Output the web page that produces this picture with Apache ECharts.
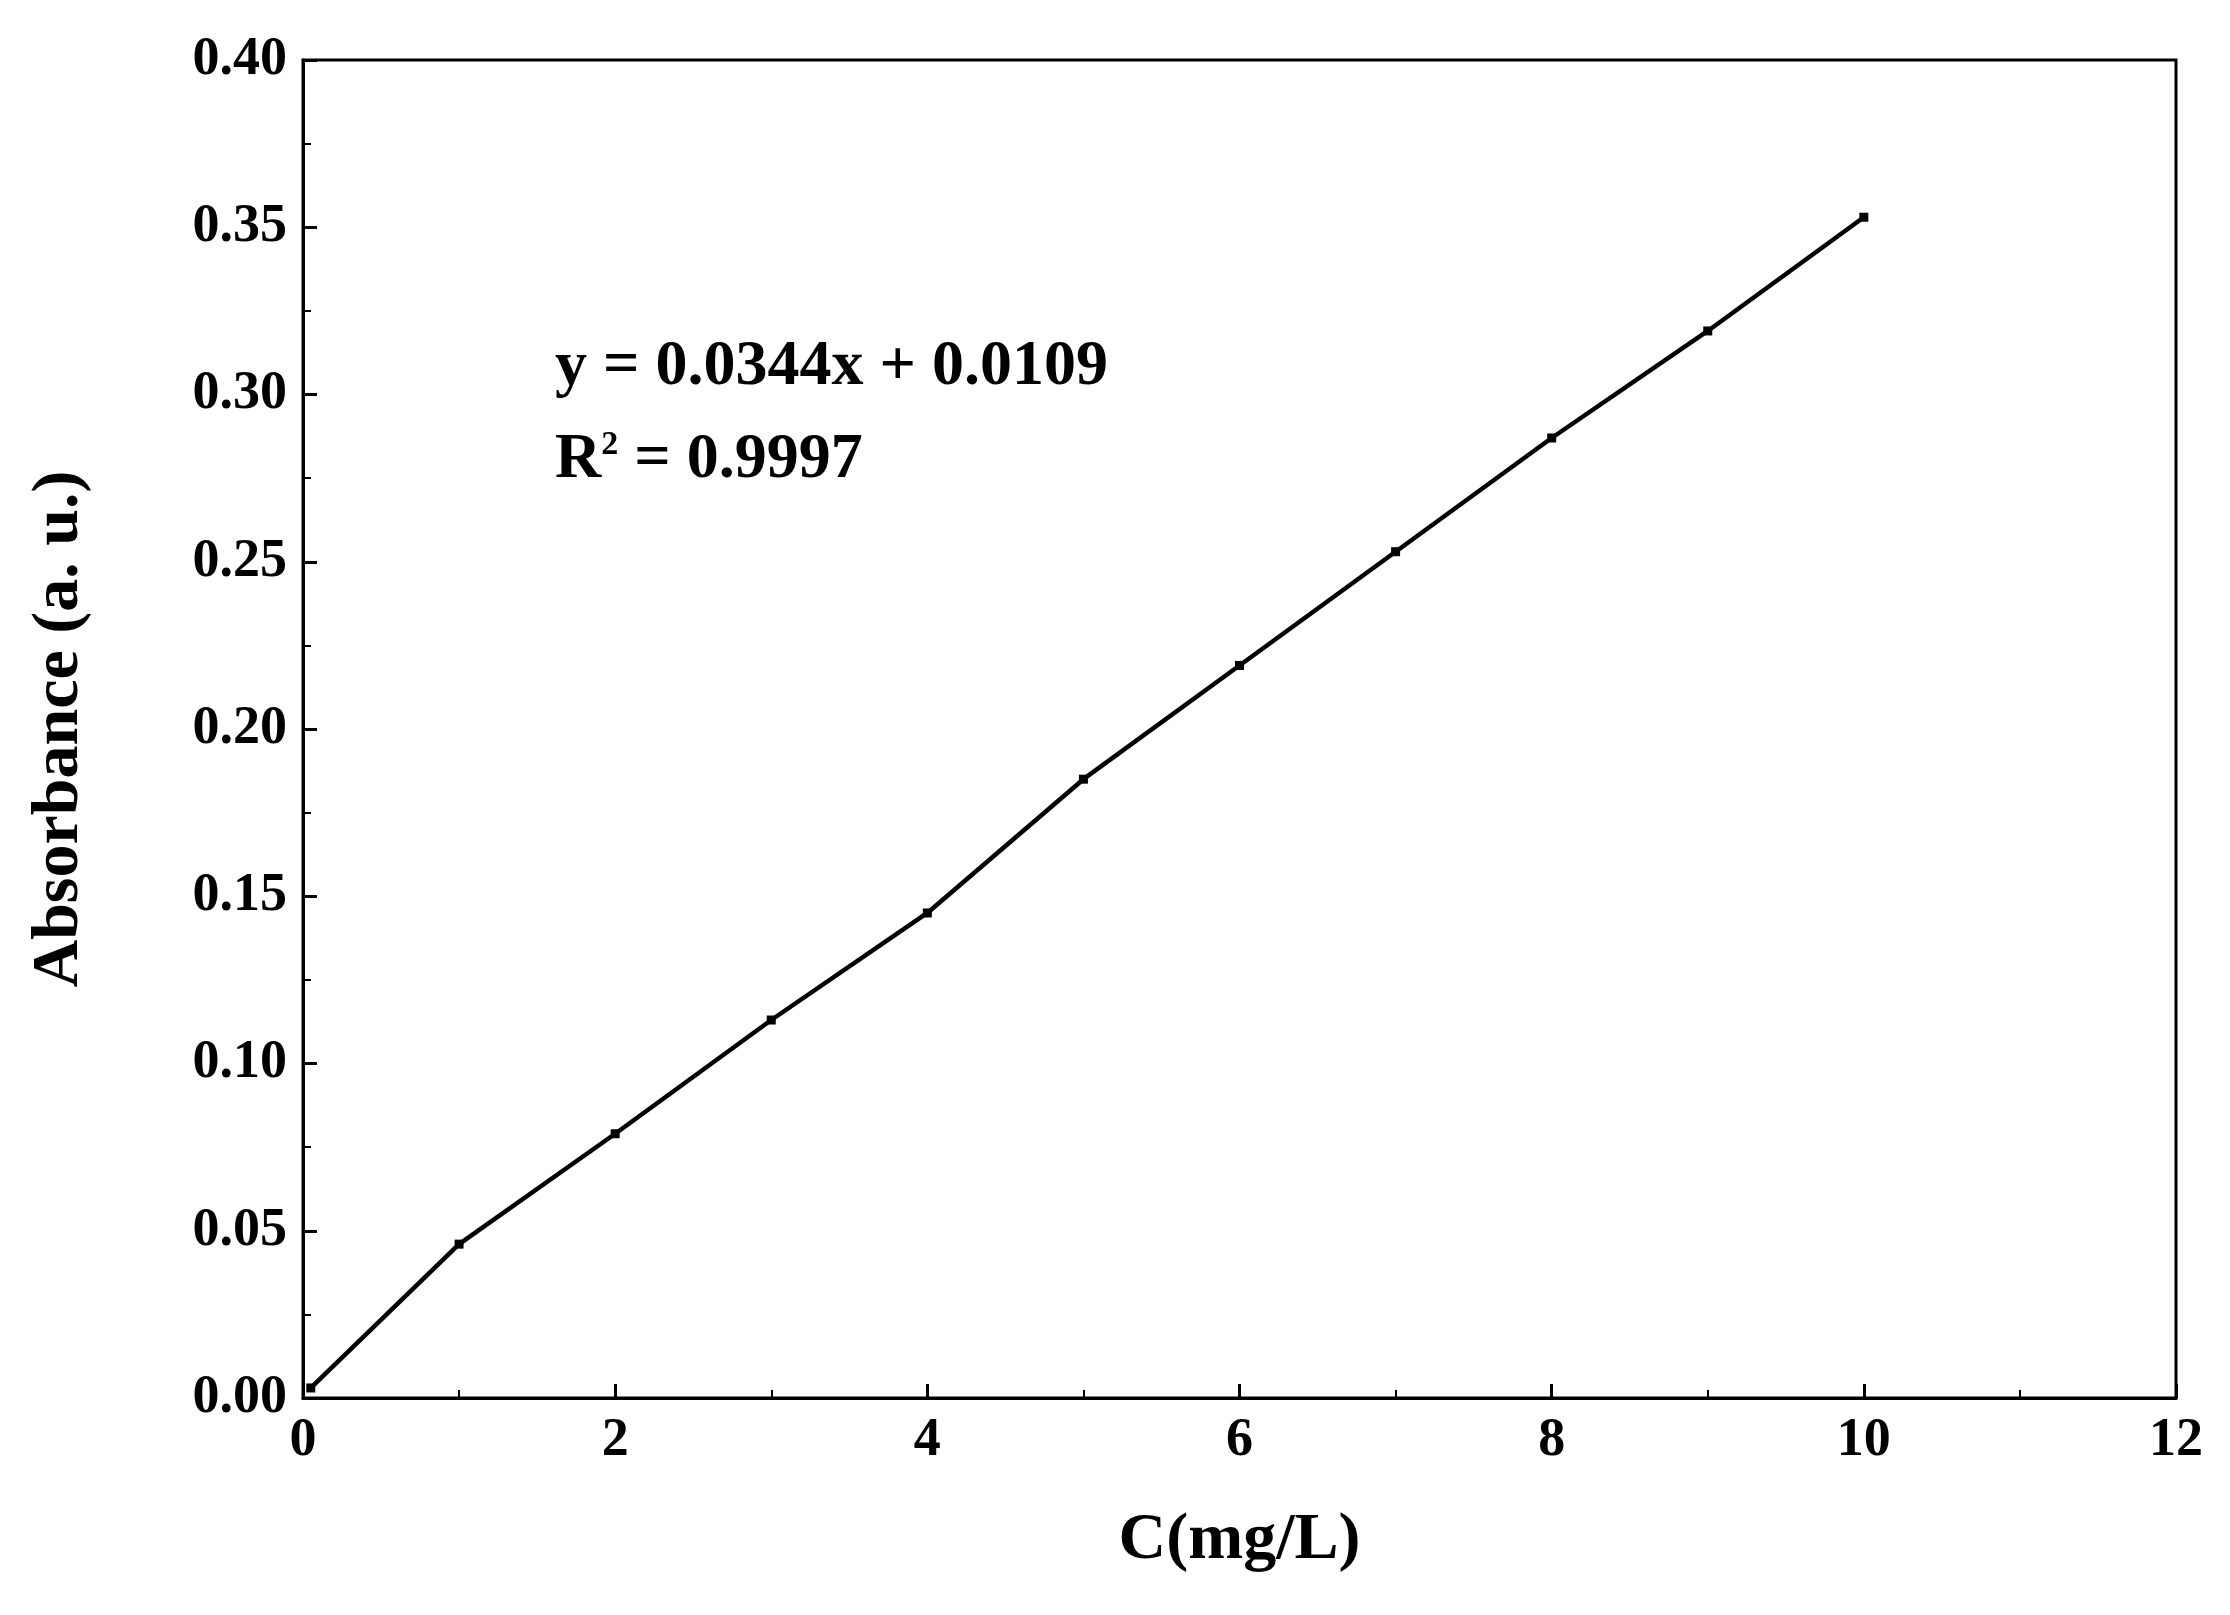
<!DOCTYPE html>
<html><head><meta charset="utf-8">
<script src="https://cdn.jsdelivr.net/npm/echarts@6/dist/echarts.min.js"></script>
<style>html,body{margin:0;padding:0;background:#fff}#c{width:2230px;height:1615px}</style>
</head><body><div id="c"></div>
<script>
const concentrations = [0.05, 1, 2, 3, 4, 5, 6, 7, 8, 9, 10];
const absorbance = [0.003, 0.046, 0.079, 0.113, 0.145, 0.185, 0.219, 0.253, 0.287, 0.319, 0.353];
const equationText = 'y = 0.0344x + 0.0109';
const r2Value = '0.9997';
const F = '"Liberation Serif","Times New Roman",serif';
const chart = echarts.init(document.getElementById('c'));
const lab = {fontFamily:F,fontWeight:'bold',fontSize:54,color:'#000'};
chart.setOption({
  animation:false,
  grid:{left:303,right:54,top:60,bottom:217,show:true,borderColor:'#000',borderWidth:3},
  xAxis:{type:'value',min:0,max:12,interval:2,
    name:'C(mg/L)',nameLocation:'middle',nameGap:110,
    nameTextStyle:{fontFamily:F,fontWeight:'bold',fontSize:66,color:'#000'},
    axisLine:{lineStyle:{color:'#000',width:3}},
    axisTick:{inside:true,length:14,lineStyle:{color:'#000',width:3}},
    minorTick:{show:true,splitNumber:2,length:8,lineStyle:{color:'#000',width:2}},
    axisLabel:Object.assign({margin:16},lab),splitLine:{show:false}},
  yAxis:{type:'value',min:0,max:0.4,interval:0.05,
    name:'Absorbance (a. u.)',nameLocation:'middle',nameGap:210,
    nameTextStyle:{fontFamily:F,fontWeight:'bold',fontSize:66,color:'#000'},
    axisLine:{lineStyle:{color:'#000',width:3}},
    axisTick:{inside:true,length:14,lineStyle:{color:'#000',width:3}},
    minorTick:{show:true,splitNumber:2,length:8,lineStyle:{color:'#000',width:2}},
    axisLabel:Object.assign({margin:16,formatter:v=>v.toFixed(2)},lab),splitLine:{show:false}},
  series:[{type:'line',data:concentrations.map((x,i)=>[x,absorbance[i]]),
    symbol:'rect',symbolSize:9,itemStyle:{color:'#000'},
    lineStyle:{color:'#000',width:4.5}}],
  graphic:[
    {type:'text',left:555,top:335,style:{text:equationText,font:'bold 64px '+F,fill:'#000'}},
    {type:'text',left:555,top:428,style:{text:'{a|R}{s|2}{a| = '+r2Value+'}',
      rich:{a:{font:'bold 64px '+F,color:'#000'},
            s:{font:'bold 34px '+F,color:'#000',verticalAlign:'top',padding:[0,0,30,0]}}}}
  ]
});
</script></body></html>
